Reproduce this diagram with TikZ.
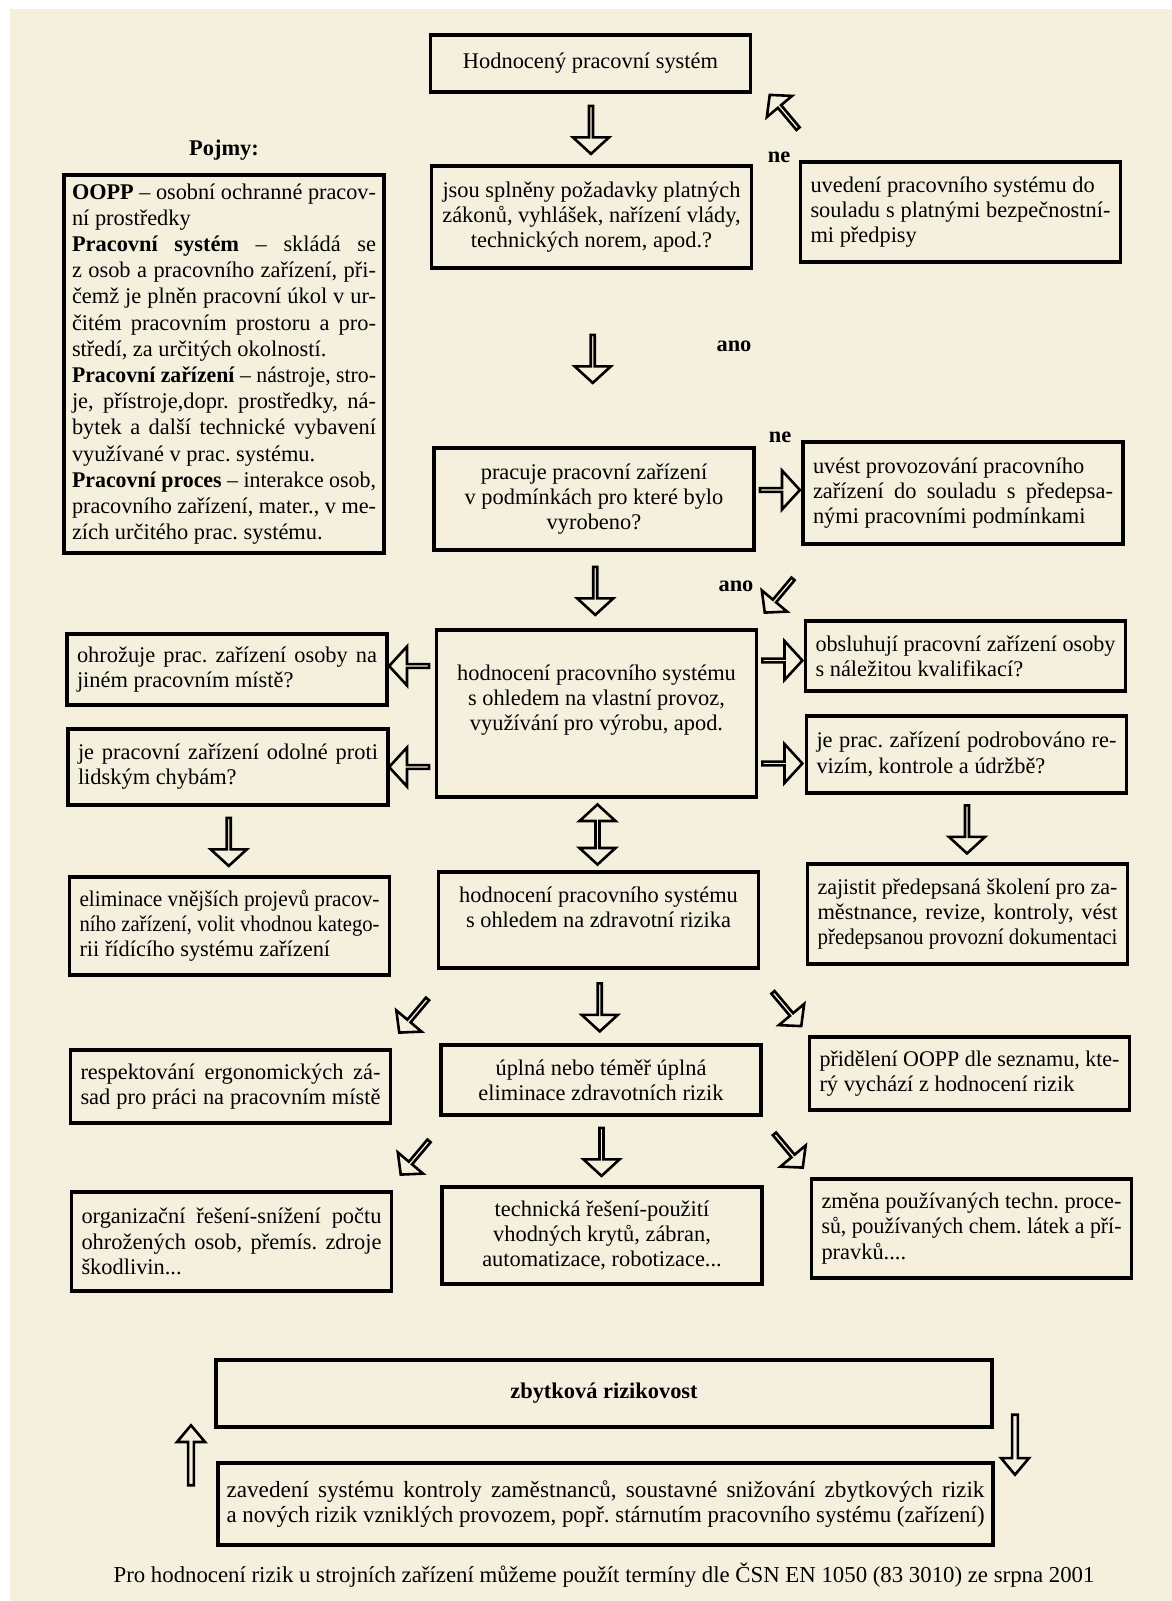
\documentclass[tikz,border=0pt]{standalone}
\usepackage{fontspec}
\usepackage{graphicx}
\setmainfont{Liberation Serif}
\usetikzlibrary{shapes.arrows,calc}
\definecolor{paper}{RGB}{245,240,222}
\newcommand{\bxfont}{\fontsize{11.2pt}{12.6pt}\selectfont\frenchspacing}
% cely radek do pevne sirky (roztahnout, pripadne zuzit)
\newsavebox{\flbox}
\newcommand{\fl}[2][150pt]{\sbox{\flbox}{#2}%
  \ifdim\wd\flbox>#1\relax\resizebox{#1}{\height}{\usebox{\flbox}}%
  \else\makebox[#1][s]{#2}\fi}
\tikzset{
  box/.style={draw, line width=1.7pt, minimum width=160pt, inner xsep=5pt, inner ysep=1pt},
  jbox/.style={box, text width=150pt, align=flush left},
  cbox/.style={box, align=flush center},
  lbl/.style={font=\bxfont\bfseries},
  fatarrow/.style={single arrow, draw, line width=1.3pt, fill=paper, inner sep=0pt,
    minimum height=24pt, minimum width=18pt, single arrow head extend=5.25pt, single arrow tip angle=95},
  fatside/.style={fatarrow, minimum height=20pt, minimum width=19.5pt, single arrow head extend=6pt},
  fatdiag/.style={fatarrow, minimum height=22pt, minimum width=16.5pt, single arrow head extend=4.5pt},
  thinarrow/.style={fatarrow, minimum height=30pt, minimum width=14pt, single arrow head extend=2.5pt, single arrow tip angle=80},
  fatboth/.style={double arrow, draw, line width=1.3pt, fill=paper, inner sep=0pt,
    minimum height=30pt, minimum width=18pt, double arrow head extend=5.25pt, double arrow tip angle=95}
}
\begin{document}
\begin{tikzpicture}[x=0.5pt, y=-0.5pt, font=\bxfont]
\useasboundingbox (0,0) rectangle (1172,1601);
\fill[white] (0,0) rectangle (1172,1601);
\fill[paper] (10,9) rectangle (1172,1601);

% hlavni osa
\node[cbox, minimum height=28.5pt] (hps) at (590.5,63.5) {Hodnocený pracovní systém};
\node[cbox, minimum height=51pt] (zak) at (591.5,217) {jsou splněny požadavky platných\\ zákonů, vyhlášek, nařízení vlády,\\ technických norem, apod.?};
\node[jbox, minimum height=50pt] (uvedeni) at (960.5,212) {\mbox{uvedení pracovního systému do}\\ \fl{souladu s platnými bezpečnostní-}\\ mi předpisy};
\node[cbox, minimum height=51pt] (prac) at (594,499) {pracuje pracovní zařízení\\ v podmínkách pro které bylo\\ vyrobeno?};
\node[jbox, minimum height=51pt] (uvest) at (963,493) {\mbox{uvést provozování pracovního}\\ \fl{zařízení do souladu s předepsa-}\\ nými pracovními podmínkami};
\node[cbox, minimum height=83.5pt] (hodprov) at (596.5,713.5) {hodnocení pracovního systému\\ s ohledem na vlastní provoz,\\ využívání pro výrobu, apod.\\[3pt]};

% pojmy
\node[lbl] (pojmy) at (224,150) {Pojmy:};
\node[box, text width=152pt, inner xsep=4pt, align=flush left, minimum height=189pt,
  font=\fontsize{11.2pt}{13.1pt}\selectfont\frenchspacing] (defs) at (224,364) {%
\fl[152pt]{\textbf{OOPP} -- osobní ochranné pracov-}\\
ní prostředky\\
\fl[152pt]{\textbf{Pracovní systém} -- skládá se}\\
\fl[152pt]{z osob a pracovního zařízení, při-}\\
\fl[152pt]{čemž je plněn pracovní úkol v ur-}\\
\fl[152pt]{čitém pracovním prostoru a pro-}\\
středí, za určitých okolností.\\
\fl[152pt]{\textbf{Pracovní zařízení} -- nástroje, stro-}\\
\fl[152pt]{je, přístroje,dopr. prostředky, ná-}\\
\fl[152pt]{bytek a další technické vybavení}\\
využívané v prac. systému.\\
\fl[152pt]{\textbf{Pracovní proces} -- interakce osob,}\\
\fl[152pt]{pracovního zařízení, mater., v me-}\\
zích určitého prac. systému.};

% postranni otazky
\node[jbox, minimum height=35.5pt] (ohroz) at (227,669.5) {\fl{ohrožuje prac. zařízení osoby na}\\ jiném pracovním místě?};
\node[jbox, minimum height=38pt] (odol) at (228,767) {\fl{je pracovní zařízení odolné proti}\\ lidským chybám?};
\node[jbox, minimum height=35pt] (obsl) at (965.5,656) {\fl{obsluhují pracovní zařízení osoby}\\ s náležitou kvalifikací?};
\node[jbox, minimum height=38.5pt] (revize) at (966.5,754.5) {\fl{je prac. zařízení podrobováno re-}\\ vizím, kontrole a údržbě?};
\node[jbox, minimum height=49pt] (elim) at (229.5,926) {\fl{eliminace vnějších projevů pracov-}\\ \fl{ního zařízení, volit vhodnou katego-}\\ rii řídícího systému zařízení};
\node[cbox, minimum height=48pt] (hodzdrav) at (598.5,920) {hodnocení pracovního systému\\ s ohledem na zdravotní rizika\\ \mbox{}};
\node[jbox, minimum height=50pt] (skol) at (967.5,914) {\fl{zajistit předepsaná školení pro za-}\\ \fl{městnance, revize, kontroly, vést}\\ \fl{předepsanou provozní dokumentaci}};

% opatreni
\node[jbox, minimum height=36.5pt] (ergo) at (230.5,1086.5) {\fl{respektování ergonomických zá-}\\ \fl{sad pro práci na pracovním místě}};
\node[cbox, minimum height=35pt] (upl) at (601,1080) {úplná nebo téměř úplná\\ eliminace zdravotních rizik};
\node[jbox, minimum height=36.5pt] (oopp) at (969.5,1073.5) {\fl{přidělení OOPP dle seznamu, kte-}\\ rý vychází z hodnocení rizik};
\node[jbox, minimum height=49.5pt] (org) at (231.5,1241.5) {\fl{organizační řešení-snížení počtu}\\ \fl{ohrožených osob, přemís. zdroje}\\ škodlivin...};
\node[cbox, minimum height=48.5pt] (tech) at (602,1235.5) {technická řešení-použití\\ vhodných krytů, zábran,\\ automatizace, robotizace...};
\node[jbox, minimum height=49.5pt] (zmena) at (971.5,1228.5) {\fl{změna používaných techn. proce-}\\ \fl{sů, používaných chem. látek a pří-}\\ pravků....};

% zbytkove riziko
\node[cbox, minimum width=388pt, minimum height=33.5pt, font=\bxfont\bfseries] (zbyt) at (604,1393.5) {zbytková rizikovost};
\node[box, minimum width=387.5pt, text width=379pt, inner xsep=4.25pt, align=flush left, minimum height=41pt,
  font=\fontsize{11.6pt}{12.6pt}\selectfont\frenchspacing] (zaved) at (605.5,1504) {\fl[379pt]{zavedení systému kontroly zaměstnanců, soustavné snižování zbytkových rizik}\\ \fl[379pt]{a nových rizik vzniklých provozem, popř. stárnutím pracovního systému (zařízení)}};
\node[font=\fontsize{11.4pt}{12.6pt}\selectfont\frenchspacing] (note) at (604,1575) {Pro hodnocení rizik u strojních zařízení můžeme použít termíny dle ČSN EN 1050 (83 3010) ze srpna 2001};

% popisky vetveni
\node[lbl] (ne1) at (779,157) {ne};
\node[lbl] (ano1) at (734,346) {ano};
\node[lbl] (ne2) at (780,437) {ne};
\node[lbl] (ano2) at (736,586) {ano};

% sipky
\node[fatarrow, rotate=-90] (a-hps-zak) at ($(hps.south)!.5!(zak.north)$) {};
\node[fatdiag, rotate=130] (a-uvedeni-hps) at (784.5,112.5) {};
\node[fatarrow, rotate=-90] (a-zak-prac) at ($(zak.south)!.5!(prac.north)$) {};
\node[fatside] (a-prac-uvest) at (779,490) {};
\node[fatarrow, rotate=-90] (a-prac-hodprov) at ($(prac.south)!.5!(hodprov.north)$) {};
\node[fatdiag, rotate=230] (a-uvest-hodprov) at (779.5,595) {};
\node[fatside, rotate=180] (a-hodprov-ohroz) at (410,666) {};
\node[fatside, rotate=180] (a-hodprov-odol) at (410,767) {};
\node[fatside] (a-hodprov-obsl) at (781.5,660.5) {};
\node[fatside] (a-hodprov-revize) at (781.5,763.5) {};
\node[fatarrow, rotate=-90] (a-odol-elim) at ($(odol.south)!.5!(elim.north)$) {};
\node[fatboth, rotate=90] (a-hodprov-hodzdrav) at ($(hodprov.south)!.5!(hodzdrav.north)$) {};
\node[fatarrow, rotate=-90] (a-revize-skol) at ($(revize.south)!.5!(skol.north)$) {};
\node[fatdiag, rotate=230] (a-hodzdrav-ergo) at (414,1015) {};
\node[fatarrow, rotate=-90] (a-hodzdrav-upl) at ($(hodzdrav.south)!.5!(upl.north)$) {};
\node[fatdiag, rotate=-50] (a-hodzdrav-oopp) at (786.5,1008.5) {};
\node[fatdiag, rotate=230] (a-upl-org) at (415.5,1157) {};
\node[fatarrow, rotate=-90] (a-upl-tech) at ($(upl.south)!.5!(tech.north)$) {};
\node[fatdiag, rotate=-50] (a-upl-zmena) at (788,1150) {};
\node[thinarrow, rotate=90] (a-zaved-zbyt) at (191,1457) {};
\node[thinarrow, rotate=-90] (a-zbyt-zaved) at (1015,1443) {};
\end{tikzpicture}
\end{document}
